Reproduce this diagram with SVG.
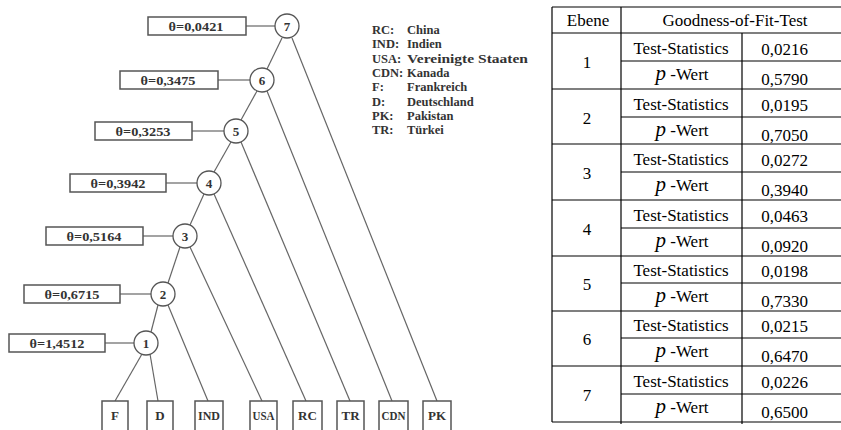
<svg xmlns="http://www.w3.org/2000/svg" width="841" height="430" viewBox="0 0 841 430">
<style>
.bx{fill:#fff;stroke:#555;stroke-width:1.5}
.cn{fill:#fff;stroke:#555;stroke-width:1.3}
.ln{stroke:#666;stroke-width:1.2;fill:none}
.lb{font-family:'Liberation Serif','Times New Roman','DejaVu Serif',serif;font-weight:bold;font-size:13px;fill:#333;text-anchor:middle}
.lg{font-family:'Liberation Serif','Times New Roman','DejaVu Serif',serif;font-weight:bold;font-size:12.5px;fill:#333}
.tl{stroke:#000;stroke-width:1.2}
.tt{font-family:'Liberation Serif','Times New Roman','DejaVu Serif',serif;font-size:17px;fill:#000;text-anchor:middle}
.pi{font-style:italic;font-size:21px}
</style>
<rect width="841" height="430" fill="#fff"/>
<g id="connectors" class="ln">
<line x1="246" y1="26" x2="275" y2="26"/>
<line x1="218" y1="80" x2="250" y2="80"/>
<line x1="192" y1="131" x2="224" y2="131"/>
<line x1="166" y1="183" x2="197" y2="183"/>
<line x1="143" y1="236" x2="173" y2="236"/>
<line x1="120" y1="294" x2="151" y2="294"/>
<line x1="105" y1="343" x2="134" y2="343"/>
<line x1="282" y1="38" x2="267" y2="69"/>
<line x1="292" y1="38" x2="437" y2="401"/>
<line x1="257" y1="91" x2="241" y2="120"/>
<line x1="267" y1="91" x2="392" y2="401"/>
<line x1="231" y1="142" x2="214" y2="172"/>
<line x1="241" y1="142" x2="350" y2="401"/>
<line x1="204" y1="194" x2="190" y2="225"/>
<line x1="214" y1="194" x2="306" y2="401"/>
<line x1="180" y1="247" x2="168" y2="283"/>
<line x1="190" y1="247" x2="262" y2="401"/>
<line x1="158" y1="305" x2="151" y2="332"/>
<line x1="168" y1="305" x2="208" y2="401"/>
<line x1="142" y1="354" x2="115" y2="401"/>
<line x1="150" y1="354" x2="158" y2="401"/>
</g>
<g id="theta7"><rect class="bx" x="148" y="17" width="98" height="18"/><text class="lb" x="196" y="30.5" textLength="55" lengthAdjust="spacingAndGlyphs">θ=0,0421</text></g>
<g id="theta6"><rect class="bx" x="120" y="71" width="98" height="18"/><text class="lb" x="168" y="84.5" textLength="55" lengthAdjust="spacingAndGlyphs">θ=0,3475</text></g>
<g id="theta5"><rect class="bx" x="95" y="122" width="97" height="18"/><text class="lb" x="143" y="135.5" textLength="55" lengthAdjust="spacingAndGlyphs">θ=0,3253</text></g>
<g id="theta4"><rect class="bx" x="70" y="174" width="96" height="18"/><text class="lb" x="118" y="187.5" textLength="55" lengthAdjust="spacingAndGlyphs">θ=0,3942</text></g>
<g id="theta3"><rect class="bx" x="46" y="227" width="97" height="18"/><text class="lb" x="94" y="240.5" textLength="55" lengthAdjust="spacingAndGlyphs">θ=0,5164</text></g>
<g id="theta2"><rect class="bx" x="24" y="285" width="96" height="18"/><text class="lb" x="72" y="298.5" textLength="55" lengthAdjust="spacingAndGlyphs">θ=0,6715</text></g>
<g id="theta1"><rect class="bx" x="9" y="334" width="96" height="18"/><text class="lb" x="57" y="347.5" textLength="55" lengthAdjust="spacingAndGlyphs">θ=1,4512</text></g>
<g id="n7"><circle class="cn" cx="287" cy="26" r="12"/><text class="lb" x="287" y="30.5">7</text></g>
<g id="n6"><circle class="cn" cx="262" cy="80" r="12"/><text class="lb" x="262" y="84.5">6</text></g>
<g id="n5"><circle class="cn" cx="236" cy="131" r="12"/><text class="lb" x="236" y="135.5">5</text></g>
<g id="n4"><circle class="cn" cx="209" cy="183" r="12"/><text class="lb" x="209" y="187.5">4</text></g>
<g id="n3"><circle class="cn" cx="185" cy="236" r="12"/><text class="lb" x="185" y="240.5">3</text></g>
<g id="n2"><circle class="cn" cx="163" cy="294" r="12"/><text class="lb" x="163" y="298.5">2</text></g>
<g id="n1"><circle class="cn" cx="146" cy="343" r="12"/><text class="lb" x="146" y="347.5">1</text></g>
<g id="leafF"><rect class="bx" x="102" y="401" width="26" height="31"/><text class="lb" x="115" y="420">F</text></g>
<g id="leafD"><rect class="bx" x="147" y="401" width="26" height="31"/><text class="lb" x="160" y="420">D</text></g>
<g id="leafIND"><rect class="bx" x="195" y="401" width="28" height="31"/><text class="lb" x="209" y="420" textLength="22" lengthAdjust="spacingAndGlyphs">IND</text></g>
<g id="leafUSA"><rect class="bx" x="250" y="401" width="27" height="31"/><text class="lb" x="263.5" y="420" textLength="22" lengthAdjust="spacingAndGlyphs">USA</text></g>
<g id="leafRC"><rect class="bx" x="293" y="401" width="29" height="31"/><text class="lb" x="307.5" y="420">RC</text></g>
<g id="leafTR"><rect class="bx" x="337" y="401" width="27" height="31"/><text class="lb" x="350.5" y="420">TR</text></g>
<g id="leafCDN"><rect class="bx" x="379" y="401" width="29" height="31"/><text class="lb" x="393.5" y="420" textLength="24" lengthAdjust="spacingAndGlyphs">CDN</text></g>
<g id="leafPK"><rect class="bx" x="423" y="401" width="28" height="31"/><text class="lb" x="437" y="420">PK</text></g>
<g id="legend">
<text class="lg" x="372" y="34">RC:</text><text class="lg" x="407" y="34">China</text>
<text class="lg" x="372" y="48.3">IND:</text><text class="lg" x="407" y="48.3">Indien</text>
<text class="lg" x="372" y="62.6">USA:</text><text class="lg" x="407" y="62.6" textLength="121" lengthAdjust="spacingAndGlyphs">Vereinigte Staaten</text>
<text class="lg" x="372" y="76.9">CDN:</text><text class="lg" x="407" y="76.9">Kanada</text>
<text class="lg" x="372" y="91.2">F:</text><text class="lg" x="407" y="91.2">Frankreich</text>
<text class="lg" x="372" y="105.5">D:</text><text class="lg" x="407" y="105.5">Deutschland</text>
<text class="lg" x="372" y="119.8">PK:</text><text class="lg" x="407" y="119.8">Pakistan</text>
<text class="lg" x="372" y="134.1">TR:</text><text class="lg" x="407" y="134.1">Türkei</text>
</g>
<g id="table">
<g class="tl">
<line x1="552" y1="7" x2="841" y2="7"/>
<line x1="552" y1="33" x2="841" y2="33"/>
<line x1="552" y1="89" x2="841" y2="89"/>
<line x1="552" y1="144" x2="841" y2="144"/>
<line x1="552" y1="200" x2="841" y2="200"/>
<line x1="552" y1="256" x2="841" y2="256"/>
<line x1="552" y1="311" x2="841" y2="311"/>
<line x1="552" y1="366" x2="841" y2="366"/>
<line x1="552" y1="422" x2="841" y2="422"/>
<line x1="621" y1="61" x2="841" y2="61"/>
<line x1="621" y1="117" x2="841" y2="117"/>
<line x1="621" y1="172" x2="841" y2="172"/>
<line x1="621" y1="228" x2="841" y2="228"/>
<line x1="621" y1="283" x2="841" y2="283"/>
<line x1="621" y1="338" x2="841" y2="338"/>
<line x1="621" y1="394" x2="841" y2="394"/>
<line x1="552" y1="7" x2="552" y2="422"/>
<line x1="621" y1="7" x2="621" y2="424"/>
<line x1="742" y1="33" x2="742" y2="424"/>
</g>
<text class="tt" x="588" y="26">Ebene</text>
<text class="tt" x="735" y="26">Goodness-of-Fit-Test</text>
<text class="tt" x="587" y="68">1</text>
<text class="tt" x="681" y="54">Test-Statistics</text><text class="tt" x="784.5" y="55">0,0216</text>
<text class="tt" x="682" y="80"><tspan class="pi">p</tspan> -Wert</text><text class="tt" x="784.5" y="85">0,5790</text>
<text class="tt" x="587" y="124">2</text>
<text class="tt" x="681" y="110">Test-Statistics</text><text class="tt" x="784.5" y="111">0,0195</text>
<text class="tt" x="682" y="136"><tspan class="pi">p</tspan> -Wert</text><text class="tt" x="784.5" y="141">0,7050</text>
<text class="tt" x="587" y="179">3</text>
<text class="tt" x="681" y="165">Test-Statistics</text><text class="tt" x="784.5" y="166">0,0272</text>
<text class="tt" x="682" y="191"><tspan class="pi">p</tspan> -Wert</text><text class="tt" x="784.5" y="196">0,3940</text>
<text class="tt" x="587" y="235">4</text>
<text class="tt" x="681" y="221">Test-Statistics</text><text class="tt" x="784.5" y="222">0,0463</text>
<text class="tt" x="682" y="247"><tspan class="pi">p</tspan> -Wert</text><text class="tt" x="784.5" y="252">0,0920</text>
<text class="tt" x="587" y="290">5</text>
<text class="tt" x="681" y="276">Test-Statistics</text><text class="tt" x="784.5" y="277">0,0198</text>
<text class="tt" x="682" y="302"><tspan class="pi">p</tspan> -Wert</text><text class="tt" x="784.5" y="307">0,7330</text>
<text class="tt" x="587" y="345">6</text>
<text class="tt" x="681" y="331">Test-Statistics</text><text class="tt" x="784.5" y="332">0,0215</text>
<text class="tt" x="682" y="357"><tspan class="pi">p</tspan> -Wert</text><text class="tt" x="784.5" y="362">0,6470</text>
<text class="tt" x="587" y="401">7</text>
<text class="tt" x="681" y="387">Test-Statistics</text><text class="tt" x="784.5" y="388">0,0226</text>
<text class="tt" x="682" y="413"><tspan class="pi">p</tspan> -Wert</text><text class="tt" x="784.5" y="418">0,6500</text>
</g>
</svg>
